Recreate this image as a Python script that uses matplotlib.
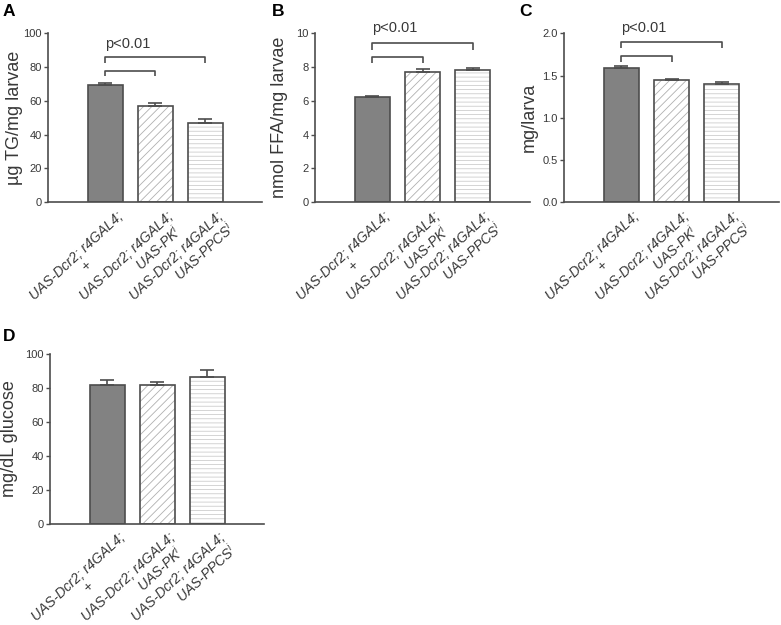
import matplotlib
matplotlib.use("Agg")
import matplotlib.pyplot as plt
from matplotlib.transforms import ScaledTranslation

plt.rcParams['font.family'] = ['Liberation Sans', 'DejaVu Sans']
plt.rcParams['mathtext.fontset'] = 'custom'
plt.rcParams['mathtext.rm'] = 'Liberation Sans'
plt.rcParams['mathtext.it'] = 'Liberation Sans:italic'
plt.rcParams['hatch.linewidth'] = 0.6

# data
genotypes = ["UAS-Dcr2; r4GAL4;\n+",
             "UAS-Dcr2; r4GAL4;\nUAS-PK$^{i}$  ",
             "UAS-Dcr2; r4GAL4;\nUAS-PPCS$^{i}$"]
label_align = ['center', 'right', 'right']

tg_mean = [69.2, 56.8, 46.6]
tg_err = [1.6, 1.8, 2.7]
ffa_mean = [6.24, 7.72, 7.82]
ffa_err = [0.07, 0.17, 0.12]
weight_mean = [1.59, 1.453, 1.405]
weight_err = [0.025, 0.012, 0.014]
glucose_mean = [82.0, 81.6, 86.2]
glucose_err = [2.9, 2.1, 4.3]

# bracket heights: (upper line, upper tick end, lower line, lower tick end, text y)
tg_sig = (86.0, 82.4, 77.8, 74.6, 94.0)
ffa_sig = (9.45, 9.05, 8.61, 8.26, 10.3)
weight_sig = (1.897, 1.83, 1.735, 1.663, 2.07)

W, H = 781, 625
fig = plt.figure(figsize=(W / 100, H / 100), dpi=100)

dark = '#4d4d4d'
txt = '#383838'
fills = ['#828282', 'white', 'white']
hatches = [None, '////', '----']
hatch_cols = [None, '#b0b0b0', '#cdcdcd']


def px_rect(left, right, top, bottom):
    return [left / W, 1 - bottom / H, (right - left) / W, (bottom - top) / H]


def draw_panel(rect, means, errs, ymax, yticks, ylabel, labx, tickfmt=None, sig=None):
    ax = fig.add_axes(rect)
    x = list(range(len(means)))
    # fill, hatch layer in light gray, then outline on top
    ax.bar(x, means, width=0.7, color=fills, linewidth=0, zorder=2)
    for i in range(len(means)):
        if hatches[i]:
            ax.bar(x[i], means[i], width=0.7, color='white', edgecolor=hatch_cols[i],
                   linewidth=0, hatch=hatches[i], zorder=2)
    ax.bar(x, means, width=0.7, color='none', edgecolor=dark, linewidth=1.2, zorder=3)
    ax.errorbar(x, means, yerr=[[0] * len(errs), errs], fmt='none', ecolor=dark,
                elinewidth=1.2, capsize=5, capthick=1.2, zorder=4)
    ax.set_xlim(-1.14, 3.14)
    ax.set_ylim(0, ymax)
    ax.set_yticks(yticks)
    if tickfmt:
        ax.set_yticklabels([tickfmt.format(v) for v in yticks])
    for s in ['top', 'right']:
        ax.spines[s].set_visible(False)
    for s in ['left', 'bottom']:
        ax.spines[s].set_color(dark)
        ax.spines[s].set_linewidth(1.2)
    ax.tick_params(axis='y', length=3, width=1.0, color=dark, pad=1.5,
                   labelsize=8, labelcolor=txt)
    ax.tick_params(axis='x', length=0, pad=5)
    ax.set_xticks(x)
    ax.set_xticklabels(genotypes, rotation=43, ha='right', va='top',
                       rotation_mode='anchor', fontsize=10, style='italic',
                       color=txt, linespacing=1.0)
    off = ScaledTranslation(0.11, 0, fig.dpi_scale_trans)
    for lab, al in zip(ax.get_xticklabels(), label_align):
        lab.set_multialignment(al)
        lab.set_transform(lab.get_transform() + off)
    ax.set_ylabel(ylabel, fontsize=13, color=txt)
    ax.yaxis.set_label_coords(labx, 0.5)
    if sig:
        up, up_end, lo, lo_end, ty = sig
        ax.plot([x[0], x[0], x[2], x[2]], [up_end, up, up, up_end], color=dark,
                lw=1.2, clip_on=False, solid_capstyle='butt')
        ax.plot([x[0], x[0], x[1], x[1]], [lo_end, lo, lo, lo_end], color=dark,
                lw=1.2, clip_on=False, solid_capstyle='butt')
        ax.text(x[0], ty, "p<0.01", ha='left', va='center', fontsize=10.5,
                color=txt, clip_on=False)
    return ax


draw_panel(px_rect(48, 262, 33.5, 202), tg_mean, tg_err, 100,
           [0, 20, 40, 60, 80, 100], "µg TG/mg larvae", -0.117, sig=tg_sig)
draw_panel(px_rect(315, 530, 33.5, 202), ffa_mean, ffa_err, 10,
           [0, 2, 4, 6, 8, 10], "nmol FFA/mg larvae", -0.126, sig=ffa_sig)
draw_panel(px_rect(564, 779, 33.5, 202), weight_mean, weight_err, 2.0,
           [0.0, 0.5, 1.0, 1.5, 2.0], "mg/larva", -0.121, tickfmt="{:.1f}",
           sig=weight_sig)
draw_panel(px_rect(50, 264, 354, 523.5), glucose_mean, glucose_err, 100,
           [0, 20, 40, 60, 80, 100], "mg/dL glucose", -0.15)

for letter, px, py in [("A", 3, 4), ("B", 272, 4), ("C", 519, 4), ("D", 3, 329)]:
    fig.text(px / W, 1 - py / H, letter, fontsize=12.5, fontweight='bold',
             color='black', ha='left', va='top')

fig.savefig("out.png", dpi=100)
